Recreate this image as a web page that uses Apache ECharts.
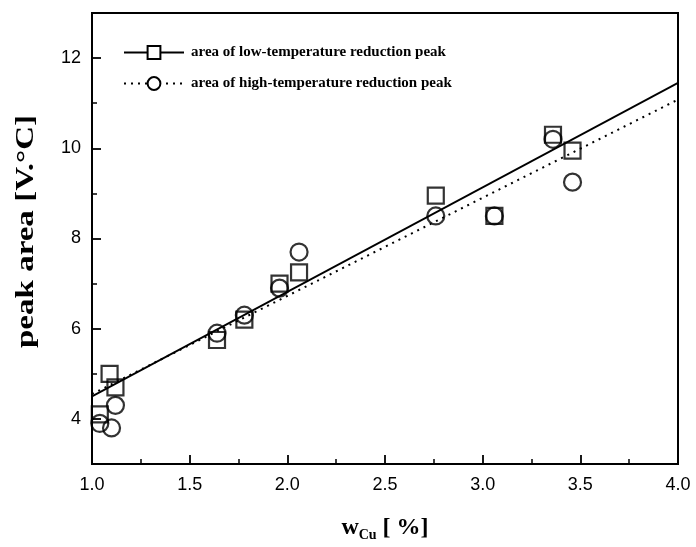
<!DOCTYPE html>
<html><head><meta charset="utf-8">
<script src="https://cdn.jsdelivr.net/npm/echarts@6/dist/echarts.min.js"></script>
<style>html,body{margin:0;padding:0;background:#fff}#c{width:696px;height:547px}</style>
</head><body><div id="c"></div>
<script>
// Low-temperature reduction peak (squares)
const lowX = [1.04, 1.09, 1.12, 1.64, 1.78, 1.96, 2.06, 2.76, 3.06, 3.36, 3.46];
const lowY = [4.1, 5.0, 4.7, 5.75, 6.2, 7.0, 7.25, 8.95, 8.5, 10.3, 9.95];
// High-temperature reduction peak (circles)
const highX = [1.04, 1.10, 1.12, 1.64, 1.78, 1.96, 2.06, 2.76, 3.06, 3.36, 3.46];
const highY = [3.9, 3.8, 4.3, 5.9, 6.3, 6.9, 7.7, 8.5, 8.5, 10.2, 9.25];
// Linear fits (end points)
const lowFitX = [1.0, 4.0];
const lowFitY = [4.5, 11.45];
const highFitX = [1.0, 4.0];
const highFitY = [4.55, 11.08];
const yMajorTicks = [4, 6, 8, 10, 12];
const yMinorTicks = [5, 7, 9, 11];
const lowName = 'area of low-temperature reduction peak';
const highName = 'area of high-temperature reduction peak';
const yTitle = 'peak area [V.°C]';

const zip = (a, b) => a.map((v, i) => [v, b[i]]);
const serif = '"Liberation Serif", "Times New Roman", serif';
const sans = '"Liberation Sans", Arial, sans-serif';

const chart = echarts.init(document.getElementById('c'));
chart.setOption({
  backgroundColor: '#fff',
  animation: false,
  grid: { left: 92, right: 18, top: 13, bottom: 82, show: true, borderColor: '#000', borderWidth: 2, backgroundColor: 'transparent' },
  legend: {
    left: 118, top: 40, orient: 'vertical', itemWidth: 60, itemHeight: 16, itemGap: 16,
    data: [lowName, highName],
    textStyle: { fontFamily: serif, fontWeight: 'bold', fontSize: 15, color: '#000', padding: [0, 0, 0, 2] }
  },
  graphic: [{
    type: 'text', x: 26, y: 348, rotation: Math.PI / 2, scaleX: 1.27,
    style: { text: yTitle, font: 'bold 26px ' + serif, fill: '#000', textAlign: 'left', textVerticalAlign: 'middle' }
  }],
  xAxis: {
    type: 'value', min: 1, max: 4, interval: 0.5,
    axisLine: { lineStyle: { color: '#000', width: 2 } },
    axisTick: { inside: true, length: 9, lineStyle: { color: '#000', width: 1.8 } },
    minorTick: { show: true, splitNumber: 2, length: 5, lineStyle: { color: '#000', width: 1.5 } },
    splitLine: { show: false },
    axisLabel: { formatter: v => v.toFixed(1), fontFamily: sans, fontSize: 18, color: '#000', margin: 12 },
    name: '{w|w}{s|Cu}{b| [ %]}', nameLocation: 'middle', nameGap: 50,
    nameTextStyle: {
      rich: {
        w: { fontFamily: serif, fontWeight: 'bold', fontSize: 24, color: '#000' },
        s: { fontFamily: serif, fontWeight: 'bold', fontSize: 14, color: '#000', padding: [14, 0, 0, 0] },
        b: { fontFamily: serif, fontWeight: 'bold', fontSize: 24, color: '#000' }
      }
    }
  },
  yAxis: [{
    type: 'value', min: 3, max: 13,
    axisLine: { lineStyle: { color: '#000', width: 2 } },
    axisTick: { inside: true, length: 9, customValues: yMajorTicks, lineStyle: { color: '#000', width: 1.8 } },
    splitLine: { show: false },
    axisLabel: { customValues: yMajorTicks, fontFamily: sans, fontSize: 18, color: '#000', margin: 11 }
  }, {
    type: 'value', min: 3, max: 13, position: 'left',
    axisLine: { show: false },
    axisTick: { inside: true, length: 5, customValues: yMinorTicks, lineStyle: { color: '#000', width: 1.5 } },
    splitLine: { show: false },
    axisLabel: { show: false }
  }],
  series: [
    {
      name: lowName, type: 'line', data: zip(lowFitX, lowFitY), showSymbol: false,
      symbol: 'rect', symbolSize: 16, silent: true,
      lineStyle: { color: '#000', width: 1.8, type: 'solid' },
      itemStyle: { color: '#fff', borderColor: '#000', borderWidth: 2 }, z: 3
    },
    {
      name: highName, type: 'line', data: zip(highFitX, highFitY), showSymbol: false,
      symbol: 'circle', symbolSize: 17, silent: true,
      lineStyle: { color: '#000', width: 2, type: [2, 5] },
      itemStyle: { color: '#fff', borderColor: '#000', borderWidth: 2 }, z: 3
    },
    {
      name: 'lowPts', type: 'scatter', data: zip(lowX, lowY), symbol: 'rect', symbolSize: 16,
      itemStyle: { color: 'rgba(255,255,255,0)', borderColor: '#000', borderWidth: 2.2 }, z: 4
    },
    {
      name: 'highPts', type: 'scatter', data: zip(highX, highY), symbol: 'circle', symbolSize: 17,
      itemStyle: { color: 'rgba(255,255,255,0)', borderColor: '#000', borderWidth: 2.2 }, z: 4
    }
  ]
});
</script></body></html>
